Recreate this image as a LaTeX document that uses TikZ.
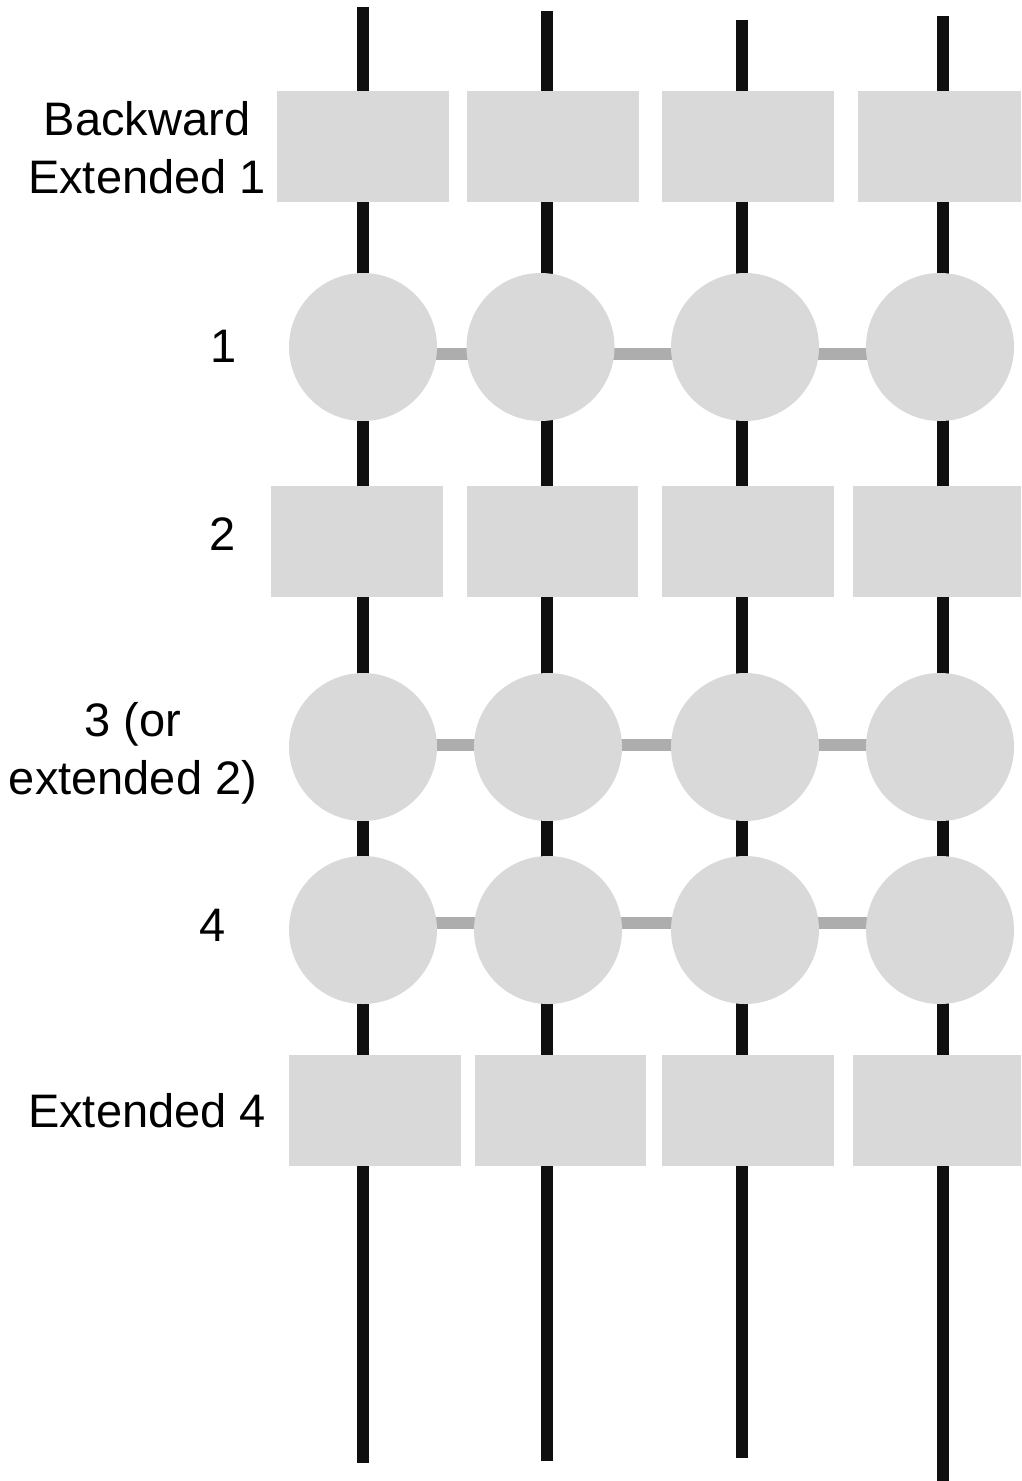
\documentclass[tikz,border=0pt]{standalone}
\usepackage{fontspec}
\setmainfont{Liberation Sans}
\usetikzlibrary{backgrounds}
\definecolor{boxgray}{HTML}{D9D9D9}
\definecolor{linkgray}{HTML}{ADADAD}
\definecolor{wireblack}{HTML}{0F0F0F}
\begin{document}
\begin{tikzpicture}[x=1pt,y=-1pt,
  box/.style={fill=boxgray, inner sep=0pt, minimum width=172pt, minimum height=111pt},
  lastbox/.style={box, minimum width=168pt},
  ball/.style={circle, fill=boxgray, inner sep=0pt, minimum size=148pt},
  wire/.style={draw=wireblack, line width=12pt},
  link/.style={draw=linkgray, line width=12pt},
  lbl/.style={font=\fontsize{47}{58}\selectfont, align=center, anchor=base, inner sep=0pt, text=black}]
\useasboundingbox (0,0) rectangle (1021,1481);

% wire end points
\coordinate (t1) at (363,7);   \coordinate (b1) at (363,1463);
\coordinate (t2) at (547,11);  \coordinate (b2) at (547,1461);
\coordinate (t3) at (742,20);  \coordinate (b3) at (742,1458);
\coordinate (t4) at (943,16);  \coordinate (b4) at (943,1481);

% row: Backward Extended 1
\node[box] (a1) at (363,146.5) {};
\node[box] (a2) at (553,146.5) {};
\node[box] (a3) at (748,146.5) {};
\node[box, minimum width=163pt] (a4) at (939.5,146.5) {};

% row: 1
\node[ball] (p1) at (363,347) {};
\node[ball] (p2) at (540.5,347) {};
\node[ball] (p3) at (745,347) {};
\node[ball] (p4) at (940,347) {};

% row: 2
\node[box] (q1) at (357,541.5) {};
\node[box, minimum width=171pt] (q2) at (552.5,541.5) {};
\node[box] (q3) at (748,541.5) {};
\node[lastbox] (q4) at (937,541.5) {};

% row: 3
\node[ball] (r1) at (363,747) {};
\node[ball] (r2) at (548,747) {};
\node[ball] (r3) at (745,747) {};
\node[ball] (r4) at (940,747) {};

% row: 4
\node[ball] (s1) at (363,930) {};
\node[ball] (s2) at (548,930) {};
\node[ball] (s3) at (745,930) {};
\node[ball] (s4) at (940,930) {};

% row: Extended 4
\node[box] (e1) at (375,1110) {};
\node[box, minimum width=171pt] (e2) at (560.5,1110) {};
\node[box] (e3) at (748,1110) {};
\node[lastbox] (e4) at (937,1110) {};

% labels (base = baseline of the last line)
\node[lbl] (l0) at (147,193) {Backward\\Extended 1};
\node[lbl] (l1) at (224,362) {1};
\node[lbl] (l2) at (222.5,550) {2};
\node[lbl] (l3) at (133,794) {3 (or\\extended 2)};
\node[lbl] (l4) at (213,941) {4};
\node[lbl] (l5) at (147,1127) {Extended 4};

\begin{scope}[on background layer]
  \draw[wire] (t1) -- (b1);
  \draw[wire] (t2) -- (b2);
  \draw[wire] (t3) -- (b3);
  \draw[wire] (t4) -- (b4);
  \draw[link] ([yshift=-6.5pt]p1.center) -- ([yshift=-6.5pt]p2.center);
  \draw[link] ([yshift=-6.5pt]p2.center) -- ([yshift=-6.5pt]p3.center);
  \draw[link] ([yshift=-6.5pt]p3.center) -- ([yshift=-6.5pt]p4.center);
  \draw[link] ([yshift=2.5pt]r1.center) -- ([yshift=2.5pt]r2.center);
  \draw[link] ([yshift=2.5pt]r2.center) -- ([yshift=2.5pt]r3.center);
  \draw[link] ([yshift=2.5pt]r3.center) -- ([yshift=2.5pt]r4.center);
  \draw[link] ([yshift=7pt]s1.center) -- ([yshift=7pt]s2.center);
  \draw[link] ([yshift=7pt]s2.center) -- ([yshift=7pt]s3.center);
  \draw[link] ([yshift=7pt]s3.center) -- ([yshift=7pt]s4.center);
\end{scope}
\end{tikzpicture}
\end{document}
